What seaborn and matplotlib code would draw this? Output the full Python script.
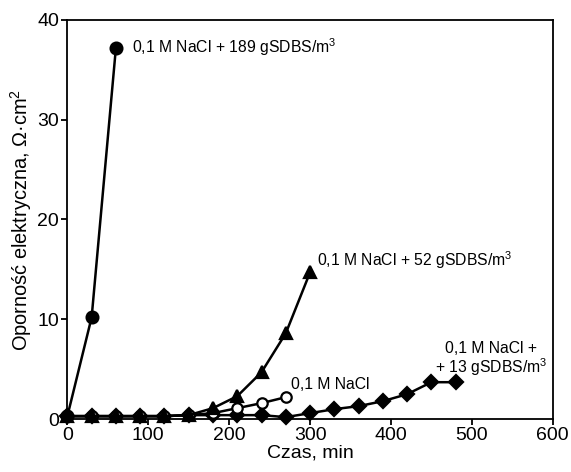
import matplotlib
matplotlib.use("Agg")
import matplotlib.pyplot as plt
import seaborn as sns
import pandas as pd

# Data
t_189 = [0, 30, 60]
r_189 = [0.3, 10.2, 37.2]

t_52 = [0, 30, 60, 90, 120, 150, 180, 210, 240, 270, 300]
r_52 = [0.3, 0.3, 0.3, 0.3, 0.3, 0.4, 1.1, 2.3, 4.7, 8.6, 14.7]

t_nacl = [0, 30, 60, 90, 120, 150, 180, 210, 240, 270]
r_nacl = [0.3, 0.3, 0.3, 0.3, 0.3, 0.4, 0.6, 1.1, 1.6, 2.2]

t_13 = [0, 30, 60, 90, 120, 150, 180, 210, 240, 270, 300, 330, 360, 390, 420, 450, 480]
r_13 = [0.3, 0.3, 0.3, 0.3, 0.3, 0.4, 0.4, 0.4, 0.4, 0.2, 0.6, 1.0, 1.3, 1.8, 2.5, 3.7, 3.7]

xticks = [0, 100, 200, 300, 400, 500, 600]
yticks = [0, 10, 20, 30, 40]

labels = {
    "189": "0,1 M NaCl + 189 gSDBS/m$^3$",
    "52": "0,1 M NaCl + 52 gSDBS/m$^3$",
    "nacl": "0,1 M NaCl",
    "13": "0,1 M NaCl +\n+ 13 gSDBS/m$^3$",
}

sns.set_theme(style="ticks")
plt.rcParams["font.family"] = ["Liberation Sans", "DejaVu Sans"]
plt.rcParams["mathtext.fontset"] = "custom"
plt.rcParams["mathtext.rm"] = "Liberation Sans"
plt.rcParams["mathtext.it"] = "Liberation Sans"
plt.rcParams["text.color"] = "black"
plt.rcParams["axes.labelcolor"] = "black"

fig = plt.figure(figsize=(5.71, 4.72), dpi=100)
ax = fig.add_axes([0.118, 0.112, 0.850, 0.846])

series = [
    (t_13, r_13, "D", "black", "black", 7.5),
    (t_nacl, r_nacl, "o", "white", "black", 7.5),
    (t_52, r_52, "^", "black", "black", 8),
    (t_189, r_189, "o", "black", "black", 8.5),
]
for t, r, m, fc, ec, ms in series:
    df = pd.DataFrame({"t": t, "r": r})
    sns.lineplot(data=df, x="t", y="r", ax=ax, color="black", lw=1.8,
                 marker=m, markersize=ms, markerfacecolor=fc,
                 markeredgecolor=ec, markeredgewidth=1.6, clip_on=False)

ax.set_xlim(0, 600)
ax.set_ylim(0, 40)
ax.set_xticks(xticks)
ax.set_yticks(yticks)
ax.tick_params(direction="out", length=4, width=1.3, labelsize=14, color="black",
               labelcolor="black", pad=2)
for s in ax.spines.values():
    s.set_linewidth(1.3)
    s.set_color("black")
    s.set_visible(True)

ax.set_xlabel("Czas, min", fontsize=14, labelpad=0, color="black")
ax.set_ylabel("Oporność elektryczna, Ω·cm$^2$", fontsize=14.4, labelpad=2, color="black")

fs = 11.3
ax.text(80, 37.3, labels["189"], fontsize=fs, va="center", ha="left")
ax.text(309, 15.9, labels["52"], fontsize=fs, va="center", ha="left")
ax.text(277, 3.5, labels["nacl"], fontsize=fs, va="center", ha="left")
ax.text(524, 6.0, labels["13"], fontsize=fs, va="center", ha="center",
        multialignment="center", linespacing=1.0)

fig.savefig("out.png", dpi=100)
